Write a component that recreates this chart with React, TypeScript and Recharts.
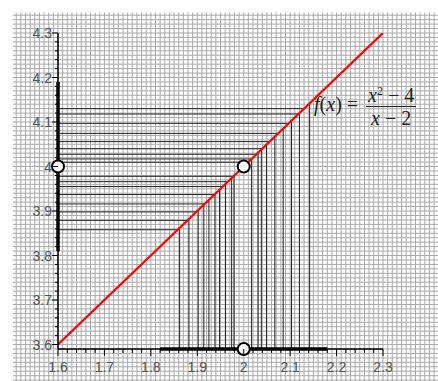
import React from 'react';
import { ComposedChart, Line, XAxis, YAxis, ReferenceLine, ReferenceDot } from 'recharts';

// Tick labels
const xMajor = [1.6, 1.7, 1.8, 1.9, 2.0, 2.1, 2.2, 2.3];
const xMajorLabels = ['1.6', '1.7', '1.8', '1.9', '2', '2.1', '2.2', '2.3'];
const yMajor = [3.6, 3.7, 3.8, 3.9, 4.0, 4.1, 4.2, 4.3];
const yMajorLabels = ['3.6', '3.7', '3.8', '3.9', '4', '4.1', '4.2', '4.3'];

// The graph of f(x) = (x^2 - 4)/(x - 2)
const curve = [
  { x: 1.6, y: 3.6 },
  { x: 2.3, y: 4.3 },
];

// y values where horizontal lines go from the y-axis to the graph
const hLevels = [3.858, 3.879, 3.898, 3.916, 3.937, 3.955, 3.966, 3.978, 4.0096, 4.017, 4.0275, 4.04, 4.056, 4.0745, 4.097, 4.118, 4.13];
// x values where vertical lines go from the x-axis to the graph
const vLevels = [1.862, 1.882, 1.902, 1.914, 1.925, 1.938, 1.948, 1.961, 1.974, 1.979, 2.017, 2.031, 2.038, 2.049, 2.067, 2.085, 2.103, 2.12, 2.142];

// thick intervals on the axes
const yBand = [3.81, 4.19];
const xBand = [1.82, 2.18];

// open circles
const holes = [
  { x: 1.6, y: 4.0 },
  { x: 2.0, y: 4.0 },
  { x: 2.0, y: 3.59 },
];

const X_MIN = 1.6, X_MAX = 2.3, Y_MIN = 3.59, Y_MAX = 4.3;
const f = (x: number) => x + 2;

const range = (a: number, b: number, step: number) => {
  const out: number[] = [];
  const n = Math.round((b - a) / step);
  for (let i = 0; i <= n; i++) out.push(Math.round((a + i * step) * 1000) / 1000);
  return out;
};
const xTicks = range(1.6, 2.3, 0.02);
const yTicks = range(3.6, 4.3, 0.02);
const gridX = range(1.51, 2.41, 0.01);
const gridY = range(3.52, 4.34, 0.01);
const GX0 = 1.503, GX1 = 2.42, GY0 = 3.517, GY1 = 4.346;

const labelFor = (v: number, majors: number[], labels: string[]) => {
  const i = majors.findIndex((m) => Math.abs(m - v) < 1e-6);
  return i >= 0 ? labels[i] : null;
};

const tickFont = { fontFamily: 'Liberation Sans, Arial, sans-serif', fontSize: 14, fill: '#555' };

const XTick = (props: any) => {
  const { x, y, payload } = props;
  const lab = labelFor(payload.value, xMajor, xMajorLabels);
  return (
    <g>
      <line x1={x} x2={x} y1={y} y2={y + (lab ? 7 : 4)} stroke="#000" strokeWidth={1} />
      {lab && (
        <text x={x} y={y + 18} textAnchor="middle" dominantBaseline="central" {...tickFont}>
          {lab}
        </text>
      )}
    </g>
  );
};

const YTick = (props: any) => {
  const { x, y, payload } = props;
  const lab = labelFor(payload.value, yMajor, yMajorLabels);
  return (
    <g>
      <line x1={x} x2={x - (lab ? 6 : 3)} y1={y} y2={y} stroke="#000" strokeWidth={1} />
      {lab && (
        <text x={x - 6} y={y} textAnchor="end" dominantBaseline="central" {...tickFont}>
          {lab}
        </text>
      )}
    </g>
  );
};

const W = 438, H = 381;
const MARGIN = { top: 33, right: 55, left: 18, bottom: 2 };
const abs: React.CSSProperties = { position: 'absolute', left: 0, top: 0 };

export default function App() {
  return (
    <div style={{ position: 'absolute', left: 0, top: 0, width: W, height: H, background: '#fff' }}>
      {/* background grid layer */}
      <div style={abs}>
        <ComposedChart width={W} height={H} data={curve} margin={MARGIN}>
          <XAxis dataKey="x" type="number" domain={[X_MIN, X_MAX]} allowDataOverflow height={30} tick={false} tickLine={false} axisLine={false} />
          <YAxis type="number" domain={[Y_MIN, Y_MAX]} allowDataOverflow width={40} tick={false} tickLine={false} axisLine={false} />
          {gridX.map((gx) => (
            <ReferenceLine
              key={'gx' + gx}
              segment={[{ x: gx, y: GY0 }, { x: gx, y: GY1 }]}
              stroke="#a9a9a9"
              strokeWidth={1}
              ifOverflow="visible"
            />
          ))}
          {gridY.map((gy) => (
            <ReferenceLine
              key={'gy' + gy}
              segment={[{ x: GX0, y: gy }, { x: GX1, y: gy }]}
              stroke="#a9a9a9"
              strokeWidth={1}
              ifOverflow="visible"
            />
          ))}
        </ComposedChart>
      </div>
      {/* main chart layer */}
      <div style={abs}>
        <ComposedChart width={W} height={H} data={curve} margin={MARGIN}>
          {hLevels.map((h) => (
            <ReferenceLine
              key={'h' + h}
              segment={[{ x: X_MIN, y: h }, { x: h - 2, y: h }]}
              stroke="#222"
              strokeWidth={1}
              ifOverflow="visible"
            />
          ))}
          {vLevels.map((v) => (
            <ReferenceLine
              key={'v' + v}
              segment={[{ x: v, y: Y_MIN }, { x: v, y: f(v) }]}
              stroke="#222"
              strokeWidth={1}
              ifOverflow="visible"
            />
          ))}
          <XAxis
            dataKey="x"
            type="number"
            domain={[X_MIN, X_MAX]}
            allowDataOverflow
            ticks={xTicks}
            interval={0}
            tick={<XTick />}
            tickLine={false}
            tickSize={0}
            tickMargin={0}
            height={30}
            axisLine={{ stroke: '#000', strokeWidth: 1.5 }}
          />
          <YAxis
            type="number"
            domain={[Y_MIN, Y_MAX]}
            allowDataOverflow
            ticks={yTicks}
            interval={0}
            tick={<YTick />}
            tickLine={false}
            tickSize={0}
            tickMargin={0}
            width={40}
            axisLine={{ stroke: '#000', strokeWidth: 1.5 }}
          />
          <Line dataKey="y" stroke="#ff0000" strokeWidth={2.2} dot={false} isAnimationActive={false} />
          <ReferenceLine
            segment={[{ x: X_MIN, y: yBand[0] }, { x: X_MIN, y: yBand[1] }]}
            stroke="#000"
            strokeWidth={3.5}
            ifOverflow="visible"
          />
          <ReferenceLine
            segment={[{ x: xBand[0], y: Y_MIN }, { x: xBand[1], y: Y_MIN }]}
            stroke="#000"
            strokeWidth={3.5}
            ifOverflow="visible"
          />
          {holes.map((p, i) => (
            <ReferenceDot
              key={'hole' + i}
              x={p.x}
              y={p.y}
              r={6}
              fill="#fff"
              stroke="#000"
              strokeWidth={2}
              ifOverflow="visible"
            />
          ))}
        </ComposedChart>
      </div>
      <div
        style={{
          position: 'absolute',
          left: 314,
          top: 82,
          display: 'flex',
          alignItems: 'center',
          fontFamily: 'Liberation Serif, Times New Roman, serif',
          fontSize: 20,
          color: '#222',
          whiteSpace: 'nowrap',
        }}
      >
        <span>
          <i>f</i>(<i>x</i>)&nbsp;=&nbsp;
        </span>
        <span style={{ display: 'inline-flex', flexDirection: 'column', alignItems: 'center', marginLeft: 3 }}>
          <span style={{ lineHeight: '18px', padding: '0 2px' }}>
            <i>x</i>
            <sup style={{ fontSize: 12, verticalAlign: 7 }}>2</sup>&nbsp;−&nbsp;4
          </span>
          <span style={{ alignSelf: 'stretch', borderTop: '1px solid #222', margin: '2px 0' }} />
          <span style={{ lineHeight: '18px' }}>
            <i>x</i>&nbsp;−&nbsp;2
          </span>
        </span>
      </div>
    </div>
  );
}
